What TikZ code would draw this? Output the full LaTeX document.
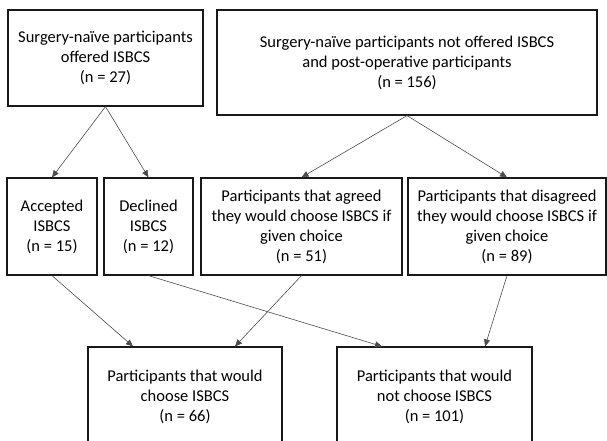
\documentclass[tikz,border=0pt]{standalone}
\usepackage{fontspec}
\setmainfont{Carlito}
\usepackage{tikz}
\usetikzlibrary{arrows.meta}

\begin{document}
\begin{tikzpicture}[x=1pt, y=-1pt,
    box/.style={draw=black!90, line width=1.2pt, inner sep=0pt, align=center,
        font=\fontsize{16.5}{20}\selectfont},
    link/.style={draw=black!70, line width=0.6pt, -{Triangle[length=7pt, width=6pt]}}]
                \clip (0, 0) rectangle (607, 440);
                % Participant groups
                \node[box, minimum width=195, minimum height=96] (offered) at (105.5, 58) {Surgery-naïve participants\\offered ISBCS\\(n = 27)};
                \node[box, minimum width=380, minimum height=105] (others) at (407, 62.5) {Surgery-naïve participants not offered ISBCS\\and post-operative participants\\(n = 156)};
                \node[box, minimum width=90, minimum height=97] (accepted) at (52, 226.5) {Accepted\\ISBCS\\(n = 15)};
                \node[box, minimum width=89, minimum height=97] (declined) at (148.5, 226.5) {Declined\\ISBCS\\(n = 12)};
                \node[box, minimum width=201, minimum height=97] (agreed) at (301.5, 226.5) {Participants that agreed\\they would choose ISBCS if\\given choice\\(n = 51)};
                \node[box, minimum width=198, minimum height=97] (disagreed) at (507, 226.5) {Participants that disagreed\\they would choose ISBCS if\\given choice\\(n = 89)};
                \node[box, minimum width=194, minimum height=100] (choose) at (185, 397) {Participants that would\\choose ISBCS\\(n = 66)};
                \node[box, minimum width=195, minimum height=100] (notchoose) at (434.5, 397) {Participants that would\\not choose ISBCS\\(n = 101)};

                \draw[link] (offered.south) -- (accepted.north);
                \draw[link] (offered.south) -- (declined.north);
                \draw[link] (others.south) -- (agreed.north);
                \draw[link] (others.south) -- (disagreed.north);
                \draw[link] (accepted.south) -- ([xshift=-52]choose.north);
                \draw[link] (agreed.south) -- ([xshift=50]choose.north);
                \draw[link] (declined.south) -- ([xshift=-52.5]notchoose.north);
                \draw[link] (disagreed.south) -- ([xshift=50.5]notchoose.north);
            \end{tikzpicture}
\end{document}
